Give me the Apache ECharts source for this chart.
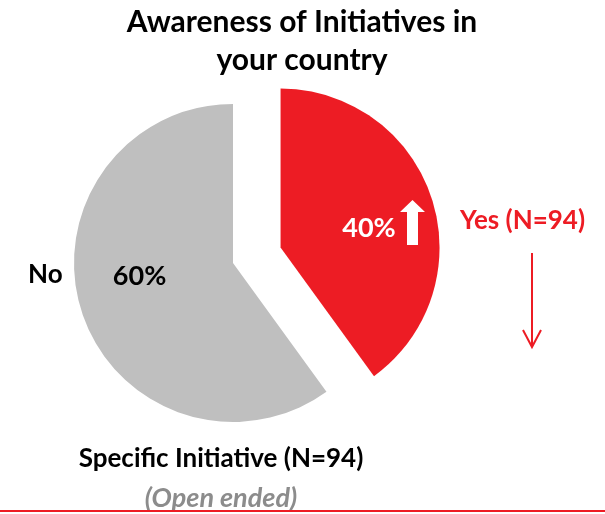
<!DOCTYPE html>
<html>
<head>
<meta charset="utf-8">
<script src="https://cdn.jsdelivr.net/npm/echarts@6/dist/echarts.min.js"></script>
<style>
  html, body { margin: 0; padding: 0; background: #fff; }
  #chart { width: 605px; height: 514px; }
</style>
</head>
<body>
<div id="chart"></div>
<script>
// Survey answers: awareness of initiatives (N=94)
const categories = ['Yes', 'No'];
const shares = [40, 60];
const sampleSize = 94;

const RED = '#ED1C24';
const GREY = '#BFBFBF';
const FONT = 'Lato';

const chart = echarts.init(document.getElementById('chart'), null, { renderer: 'canvas' });

const pieData = categories.map((name, i) => ({
  name: name,
  value: shares[i],
  selected: name === 'Yes',
  itemStyle: { color: name === 'Yes' ? RED : GREY },
  label: { color: name === 'Yes' ? '#ffffff' : '#000000' }
}));

// nudges for the in-slice percentage labels
const labelShift = { Yes: [10, 6], No: [-15, -12] };

chart.setOption({
  animation: false,
  title: {
    text: 'Awareness of Initiatives in\nyour country',
    left: 302,
    top: 3,
    padding: 0,
    textAlign: 'center',
    textStyle: { fontFamily: FONT, fontWeight: 'bold', fontSize: 30, lineHeight: 38, color: '#000' }
  },
  series: [{
    type: 'pie',
    center: [233, 263],
    radius: [0, 159],
    startAngle: 90,
    clockwise: true,
    selectedMode: 'single',
    selectedOffset: 50,
    silent: true,
    label: {
      position: 'inside',
      formatter: p => p.value + '%',
      fontFamily: FONT,
      fontWeight: 'bold',
      fontSize: 27
    },
    labelLine: { show: false },
    labelLayout: params => {
      const s = labelShift[categories[params.dataIndex]];
      return { dx: s[0], dy: s[1] };
    },
    emphasis: { disabled: true },
    data: pieData
  }],
  graphic: [
    // upward arrow beside the Yes share
    {
      type: 'polygon', z: 100,
      shape: { points: [[412.5, 200], [425, 212], [418, 212], [418, 245], [407, 245], [407, 212], [400, 212]] },
      style: { fill: '#ffffff' }
    },
    {
      type: 'text', x: 460, y: 221, z: 100,
      style: { text: 'Yes (N=' + sampleSize + ')', fill: RED, fontFamily: FONT, fontWeight: 'bold', fontSize: 26, verticalAlign: 'middle' }
    },
    // pointer below the Yes caption
    {
      type: 'polyline', z: 100,
      shape: { points: [[532, 253], [532, 347]] },
      style: { stroke: RED, lineWidth: 2, fill: null }
    },
    {
      type: 'polyline', z: 100,
      shape: { points: [[523, 330], [532, 347], [541, 330]] },
      style: { stroke: RED, lineWidth: 2, fill: null }
    },
    {
      type: 'text', x: 28, y: 275, z: 100,
      style: { text: 'No', fill: '#000', fontFamily: FONT, fontWeight: 'bold', fontSize: 26, verticalAlign: 'middle' }
    },
    {
      type: 'text', x: 221, y: 459, z: 100,
      style: { text: 'Specific Initiative (N=' + sampleSize + ')', fill: '#000', fontFamily: FONT, fontWeight: 'bold', fontSize: 26, align: 'center', verticalAlign: 'middle' }
    },
    {
      type: 'text', x: 221, y: 498, z: 100,
      style: { text: '(Open ended)', fill: '#8C8C8C', fontFamily: FONT, fontWeight: 'bold', fontStyle: 'italic', fontSize: 27, align: 'center', verticalAlign: 'middle' }
    },
    {
      type: 'rect', z: 100,
      shape: { x: 0, y: 510, width: 605, height: 2 },
      style: { fill: RED }
    }
  ]
});
</script>
</body>
</html>
